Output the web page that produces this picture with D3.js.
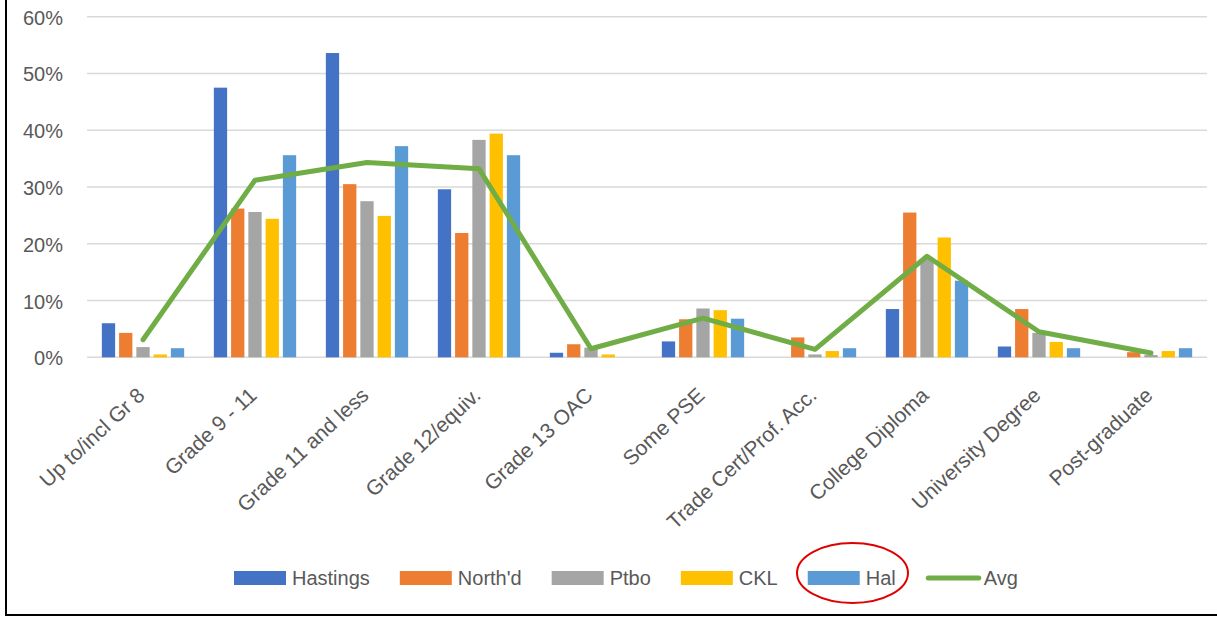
<!DOCTYPE html>
<html>
<head>
<meta charset="utf-8">
<script src="https://cdn.jsdelivr.net/npm/d3@7/dist/d3.min.js"></script>
<style>
  html, body { margin: 0; padding: 0; background: #fff; }
  svg { display: block; }
  text { font-family: "Liberation Sans", Arial, sans-serif; fill: #595959; }
</style>
</head>
<body>
<svg id="chart" width="1217" height="617"></svg>
<script>
// Education level shares by area (percent)
const categories = ["Up to/incl Gr 8", "Grade 9 - 11", "Grade 11 and less", "Grade 12/equiv.",
  "Grade 13 OAC", "Some PSE", "Trade Cert/Prof. Acc.", "College Diploma", "University Degree", "Post-graduate"];
const seriesNames = ["Hastings", "North'd", "Ptbo", "CKL", "Hal"];
const hastings = [6.0, 47.5, 53.6, 29.6, 0.8, 2.8, 0.0, 8.5, 1.9, 0.0];
const northd   = [4.3, 26.2, 30.5, 21.9, 2.3, 6.7, 3.5, 25.5, 8.5, 0.9];
const ptbo     = [1.8, 25.6, 27.5, 38.3, 1.7, 8.6, 0.5, 17.3, 4.3, 0.4];
const ckl      = [0.5, 24.4, 24.9, 39.4, 0.5, 8.3, 1.1, 21.1, 2.7, 1.1];
const hal      = [1.6, 35.6, 37.2, 35.6, 0.0, 6.8, 1.6, 13.5, 1.6, 1.6];
const avg      = [3.1, 31.2, 34.3, 33.2, 1.5, 6.9, 1.4, 17.8, 4.5, 0.75];
const yTicks   = [0, 10, 20, 30, 40, 50, 60];

const seriesValues = [hastings, northd, ptbo, ckl, hal];
const colors = ["#4472C4", "#ED7D31", "#A5A5A5", "#FFC000", "#5B9BD5"];
const avgColor = "#70AD47";

const svg = d3.select("#chart");

// outer frame
svg.append("rect")
  .attr("x", 6).attr("y", -10).attr("width", 1300).attr("height", 625)
  .attr("fill", "none").attr("stroke", "#000").attr("stroke-width", 2);

const plot = { left: 87, right: 1207, top: 16.7, bottom: 357.3 };

const x0 = d3.scaleBand()
  .domain(categories)
  .range([plot.left, plot.right])
  .paddingInner(0.265)
  .paddingOuter(0.1325);

const x1 = d3.scaleBand()
  .domain(seriesNames)
  .range([0, x0.bandwidth()])
  .paddingInner(0.23)
  .paddingOuter(0);

const y = d3.scaleLinear().domain([0, 60]).range([plot.bottom, plot.top]);

// gridlines
svg.append("g").selectAll("line")
  .data(yTicks)
  .join("line")
  .attr("x1", plot.left).attr("x2", plot.right)
  .attr("y1", d => y(d)).attr("y2", d => y(d))
  .attr("stroke", "#D9D9D9").attr("stroke-width", 1.5);

// y tick labels
svg.append("g").selectAll("text")
  .data(yTicks)
  .join("text")
  .attr("x", 63).attr("y", d => y(d) + 1)
  .attr("text-anchor", "end")
  .attr("dominant-baseline", "central")
  .attr("font-size", 20)
  .text(d => d + "%");

// grouped bars
const groups = svg.append("g").selectAll("g")
  .data(categories)
  .join("g")
  .attr("transform", d => `translate(${x0(d)},0)`);

groups.selectAll("rect")
  .data((c, i) => seriesNames.map((s, k) => ({ s, k, v: seriesValues[k][i] })))
  .join("rect")
  .attr("x", d => x1(d.s))
  .attr("width", x1.bandwidth())
  .attr("y", d => y(d.v))
  .attr("height", d => y(0) - y(d.v))
  .attr("fill", d => colors[d.k]);

// average line
const line = d3.line()
  .x((d, i) => x0(categories[i]) + x0.bandwidth() / 2)
  .y(d => y(d));

svg.append("path")
  .datum(avg)
  .attr("d", line)
  .attr("fill", "none")
  .attr("stroke", avgColor)
  .attr("stroke-width", 5)
  .attr("stroke-linejoin", "round")
  .attr("stroke-linecap", "round");

// category labels, rotated
svg.append("g").selectAll("text")
  .data(categories)
  .join("text")
  .attr("transform", d => `translate(${x0(d) + x0.bandwidth() / 2 + 3},397) rotate(-43)`)
  .attr("text-anchor", "end")
  .attr("font-size", 21)
  .text(d => d);

// legend
const legend = svg.append("g");
let lx = 234;
const ly = 578;
const legendItems = seriesNames.map((s, k) => ({ name: s, color: colors[k], type: "bar" }))
  .concat([{ name: "Avg", color: avgColor, type: "line" }]);

legendItems.forEach(item => {
  if (item.type === "bar") {
    legend.append("rect")
      .attr("x", lx).attr("y", ly - 7)
      .attr("width", 52).attr("height", 14)
      .attr("fill", item.color);
  } else {
    legend.append("line")
      .attr("x1", lx + 2.5).attr("x2", lx + 53)
      .attr("y1", ly).attr("y2", ly)
      .attr("stroke", item.color).attr("stroke-width", 5)
      .attr("stroke-linecap", "round");
  }
  const t = legend.append("text")
    .attr("x", lx + 58).attr("y", ly + 7)
    .attr("font-size", 20)
    .text(item.name);
  lx += 58 + t.node().getComputedTextLength() + 30;
});

// highlight ring around the Hal entry
svg.append("ellipse")
  .attr("cx", 852.5).attr("cy", 573)
  .attr("rx", 55.5).attr("ry", 30)
  .attr("fill", "none")
  .attr("stroke", "#E00000")
  .attr("stroke-width", 2);
</script>
</body>
</html>
